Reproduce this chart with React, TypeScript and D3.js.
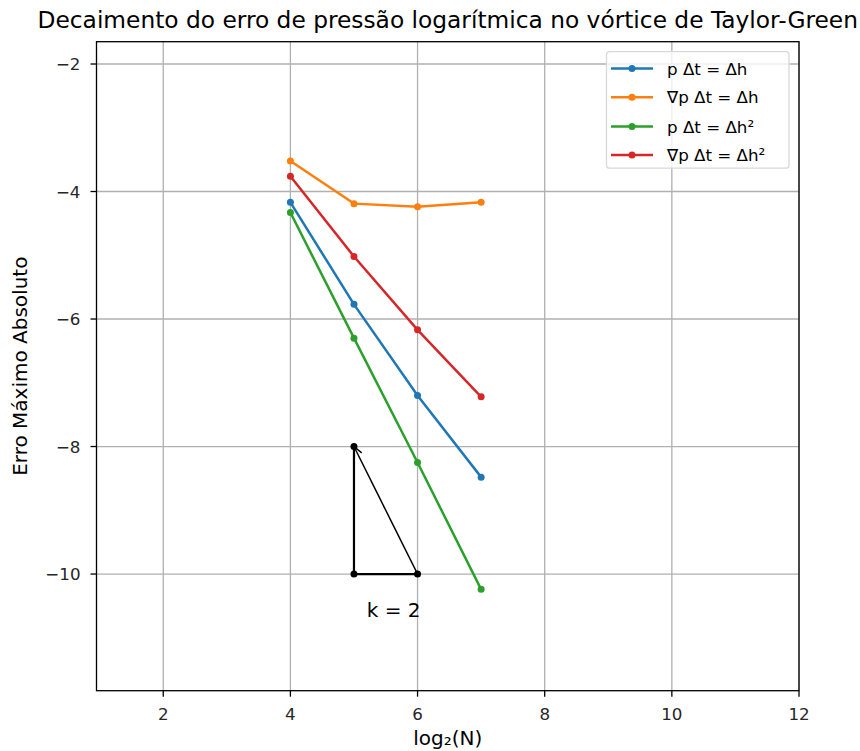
import React from "react";
import * as d3 from "d3";

const xs = [4, 5, 6, 7];
const pDh = [-4.17, -5.77, -7.2, -8.48];
const gradPDh = [-3.52, -4.19, -4.24, -4.17];
const pDh2 = [-4.33, -6.3, -8.25, -10.24];
const gradPDh2 = [-3.76, -5.02, -6.17, -7.22];

const seriesNames = ["p Δt = Δh", "∇p Δt = Δh", "p Δt = Δh²", "∇p Δt = Δh²"];
const seriesColors = ["#1f77b4", "#ff7f0e", "#2ca02c", "#d62728"];
const seriesValues = [pDh, gradPDh, pDh2, gradPDh2];

const xTicks = [2, 4, 6, 8, 10, 12];
const yTicks = [-2, -4, -6, -8, -10];

// slope triangle: (5,-8), (5,-10), (6,-10)
const triX = [5, 5, 6];
const triY = [-8, -10, -10];

const W = 860;
const H = 751;
const left = 96.5;
const right = 799;
const top = 41.7;
const bottom = 690.7;

export default function App() {
  const x = d3.scaleLinear().domain([0.95, 12]).range([left, right]);
  const y = d3.scaleLinear().domain([-11.83, -1.65]).range([bottom, top]);
  const line = d3
    .line<[number, number]>()
    .x((d) => x(d[0]))
    .y((d) => y(d[1]));
  const font = "DejaVu Sans, sans-serif";
  const fmt = (v: number) => (v < 0 ? "\u2212" + Math.abs(v) : String(v));

  // arrow from (6,-10) to (5,-8)
  const ax0 = x(6), ay0 = y(-10), ax1 = x(5), ay1 = y(-8);
  const ang = Math.atan2(ay1 - ay0, ax1 - ax0);
  const headLen = 10;
  const headAng = 0.42;
  const h1 = [ax1 - headLen * Math.cos(ang - headAng), ay1 - headLen * Math.sin(ang - headAng)];
  const h2 = [ax1 - headLen * Math.cos(ang + headAng), ay1 - headLen * Math.sin(ang + headAng)];

  const legX = 606.5, legY = 51.7, legW = 182.5, legH = 116.5;
  const rowY = [68.5, 97.3, 126.5, 155];

  return (
    <svg width={W} height={H} style={{ position: "absolute", left: 0, top: 0, background: "#fff" }} fontFamily={font}>
      <rect x={0} y={0} width={W} height={H} fill="#fff" />
      {/* grid */}
      {xTicks.map((t) => (
        <line key={"gx" + t} x1={x(t)} x2={x(t)} y1={top} y2={bottom} stroke="#b0b0b0" strokeWidth={1.3} />
      ))}
      {yTicks.map((t) => (
        <line key={"gy" + t} x1={left} x2={right} y1={y(t)} y2={y(t)} stroke="#b0b0b0" strokeWidth={1.3} />
      ))}
      {/* series */}
      {seriesValues.map((vals, i) => {
        const pts = xs.map((xv, j) => [xv, vals[j]] as [number, number]);
        return (
          <g key={"s" + i}>
            <path d={line(pts) || ""} fill="none" stroke={seriesColors[i]} strokeWidth={2.5} />
            {pts.map((p, j) => (
              <circle key={j} cx={x(p[0])} cy={y(p[1])} r={3.5} fill={seriesColors[i]} />
            ))}
          </g>
        );
      })}
      {/* slope triangle */}
      <path
        d={line(triX.map((v, i) => [v, triY[i]] as [number, number])) || ""}
        fill="none"
        stroke="#000"
        strokeWidth={2.2}
      />
      {triX.map((v, i) => (
        <circle key={"t" + i} cx={x(v)} cy={y(triY[i])} r={3.5} fill="#000" />
      ))}
      <line x1={ax0} y1={ay0} x2={ax1} y2={ay1} stroke="#000" strokeWidth={1.5} />
      <polyline points={`${h1[0]},${h1[1]} ${ax1},${ay1} ${h2[0]},${h2[1]}`} fill="none" stroke="#000" strokeWidth={1.5} />
      <text x={x(5.2)} y={y(-10.67)} textAnchor="start" fontSize={20} fill="#000">
        k = 2
      </text>
      {/* frame */}
      <rect x={left} y={top} width={right - left} height={bottom - top} fill="none" stroke="#000" strokeWidth={1.3} />
      {/* ticks */}
      {xTicks.map((t) => (
        <g key={"tx" + t}>
          <line x1={x(t)} x2={x(t)} y1={bottom} y2={bottom + 6} stroke="#000" strokeWidth={1.3} />
          <text x={x(t)} y={720} textAnchor="middle" fontSize={16.7} fill="#262626">
            {fmt(t)}
          </text>
        </g>
      ))}
      {yTicks.map((t) => (
        <g key={"ty" + t}>
          <line x1={left - 6} x2={left} y1={y(t)} y2={y(t)} stroke="#000" strokeWidth={1.3} />
          <text x={80.5} y={y(t)} dy="0.36em" textAnchor="end" fontSize={16.7} fill="#262626">
            {fmt(t)}
          </text>
        </g>
      ))}
      {/* labels */}
      <text x={(left + right) / 2} y={28} textAnchor="middle" fontSize={23.3} fill="#000">
        Decaimento do erro de pressão logarítmica no vórtice de Taylor-Green
      </text>
      <text x={(left + right) / 2} y={745} textAnchor="middle" fontSize={20} fill="#000">
        log₂(N)
      </text>
      <text
        transform={`translate(27, ${(top + bottom) / 2}) rotate(-90)`}
        textAnchor="middle"
        fontSize={20}
        fill="#000"
      >
        Erro Máximo Absoluto
      </text>
      {/* legend */}
      <rect x={legX} y={legY} width={legW} height={legH} rx={3} fill="#fff" fillOpacity={0.8} stroke="#d9d9d9" strokeWidth={1.3} />
      {seriesNames.map((n, i) => (
        <g key={"l" + i}>
          <line x1={611} x2={653} y1={rowY[i]} y2={rowY[i]} stroke={seriesColors[i]} strokeWidth={2.5} />
          <circle cx={632} cy={rowY[i]} r={3.5} fill={seriesColors[i]} />
          <text x={667} y={rowY[i]} dy="0.36em" fontSize={16.7} fill="#000">
            {n}
          </text>
        </g>
      ))}
    </svg>
  );
}
